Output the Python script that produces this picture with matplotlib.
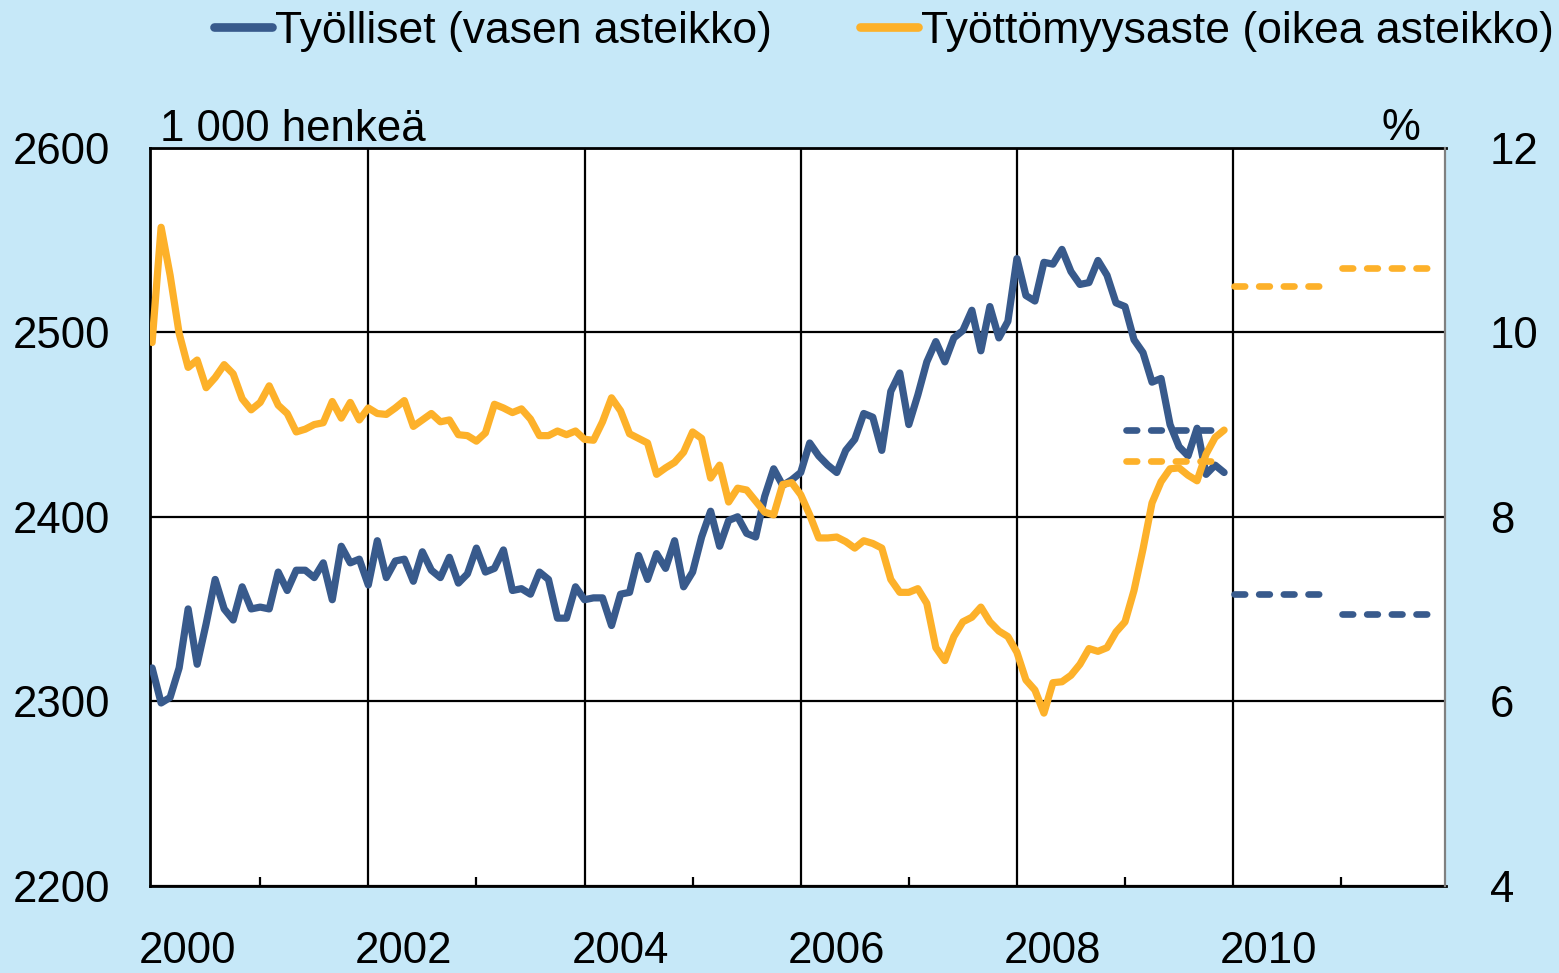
import matplotlib
matplotlib.use('Agg')
import matplotlib.pyplot as plt
import numpy as np
from matplotlib.lines import Line2D

plt.rcParams['font.family'] = ['Liberation Sans', 'DejaVu Sans']

# ---- data ----
start_year = 2000
employed = [
    2318, 2299, 2302, 2318, 2350, 2320, 2342, 2366, 2350, 2344, 2362, 2350,  # 2000
    2351, 2350, 2370, 2360, 2371, 2371, 2367, 2375, 2355, 2384, 2375, 2377,  # 2001
    2363, 2387, 2367, 2376, 2377, 2365, 2381, 2371, 2367, 2378, 2364, 2369,  # 2002
    2383, 2370, 2372, 2382, 2360, 2361, 2358, 2370, 2366, 2345, 2345, 2362,  # 2003
    2355, 2356, 2356, 2341, 2358, 2359, 2379, 2366, 2380, 2372, 2387, 2362,  # 2004
    2370, 2389, 2403, 2384, 2398, 2400, 2391, 2389, 2411, 2426, 2417, 2420,  # 2005
    2424, 2440, 2433, 2428, 2424, 2436, 2442, 2456, 2454, 2436, 2468, 2478,  # 2006
    2450, 2466, 2484, 2495, 2484, 2497, 2501, 2512, 2490, 2514, 2497, 2506,  # 2007
    2540, 2520, 2517, 2538, 2537, 2545, 2533, 2526, 2527, 2539, 2531, 2516,  # 2008
    2514, 2496, 2489, 2473, 2475, 2450, 2438, 2433, 2448, 2423, 2428, 2424,  # 2009
]
unemployment = [
    9.89, 11.14, 10.62, 9.99, 9.62, 9.70, 9.40, 9.51, 9.65, 9.55, 9.28, 9.16,  # 2000
    9.24, 9.42, 9.21, 9.12, 8.92, 8.95, 9.00, 9.02, 9.25, 9.07, 9.24, 9.05,    # 2001
    9.18, 9.12, 9.11, 9.18, 9.26, 8.98, 9.05, 9.12, 9.03, 9.05, 8.89, 8.88,    # 2002
    8.82, 8.91, 9.22, 9.18, 9.13, 9.17, 9.06, 8.88, 8.88, 8.93, 8.89, 8.93,    # 2003
    8.84, 8.83, 9.03, 9.29, 9.15, 8.90, 8.85, 8.80, 8.46, 8.53, 8.59, 8.70,    # 2004
    8.92, 8.85, 8.42, 8.56, 8.16, 8.31, 8.29, 8.17, 8.05, 8.02, 8.35, 8.37,    # 2005
    8.24, 8.02, 7.77, 7.77, 7.78, 7.73, 7.66, 7.74, 7.71, 7.66, 7.32, 7.18,    # 2006
    7.18, 7.22, 7.06, 6.58, 6.44, 6.70, 6.86, 6.91, 7.02, 6.86, 6.76, 6.70,    # 2007
    6.53, 6.23, 6.12, 5.87, 6.20, 6.21, 6.28, 6.40, 6.57, 6.54, 6.58, 6.75,    # 2008
    6.86, 7.20, 7.65, 8.15, 8.38, 8.52, 8.53, 8.45, 8.39, 8.68, 8.86, 8.94,    # 2009
]
forecast_years = [2009, 2010, 2011]
employed_forecast = [2447, 2358, 2347]
unemployment_forecast = [8.6, 10.5, 10.7]

label_years = [2000, 2002, 2004, 2006, 2008, 2010]
grid_years = [2002, 2004, 2006, 2008, 2010]
minor_years = [2001, 2003, 2005, 2007, 2009, 2011]
left_ticks = [2200, 2300, 2400, 2500, 2600]
right_ticks = [4, 6, 8, 10, 12]

legend_labels = ['Työlliset (vasen asteikko)', 'Työttömyysaste (oikea asteikko)']
left_unit = '1 000 henkeä'
right_unit = '%'

# ---- style ----
BLUE = '#385a8c'
ORANGE = '#fdb12a'
BG = '#c6e8f8'
FS = 31.5
LFS = 32
LW = 5.2

W, H = 1559, 973
fig = plt.figure(figsize=(W / 100, H / 100), dpi=100, facecolor=BG)
L, R, T, B = 149.5, 1445.5, 148, 885.5
ax = fig.add_axes([L / W, 1 - B / H, (R - L) / W, (B - T) / H])
ax.set_facecolor('white')
ax2 = ax.twinx()

t = start_year + np.arange(len(employed)) / 12.0
ax.plot(t, employed, color=BLUE, lw=LW, solid_joinstyle='round',
        solid_capstyle='round', zorder=3)
ax2.plot(t, unemployment, color=ORANGE, lw=LW, solid_joinstyle='round',
         solid_capstyle='round', zorder=3)

for yr, v in zip(forecast_years, employed_forecast):
    ax.plot([yr + 0.01, yr + 0.80], [v, v], color=BLUE, lw=4.8,
            linestyle=(0, (1.6, 2.1)), dash_capstyle='round', zorder=3)
for yr, v in zip(forecast_years, unemployment_forecast):
    ax2.plot([yr + 0.01, yr + 0.80], [v, v], color=ORANGE, lw=4.8,
             linestyle=(0, (1.6, 2.1)), dash_capstyle='round', zorder=3)

x0 = 2000 - 2.6 / 108.1
x1 = 2000 + (R - 152.1) / 108.1
ax.set_xlim(x0, x1)
ax.set_ylim(2200, 2600)
ax2.set_ylim(4, 12)

# gridlines
ax.set_yticks(left_ticks)
ax.yaxis.grid(True, color='black', lw=1.6, zorder=1)
for gy in grid_years:
    ax.axvline(gy, color='black', lw=1.6, zorder=1)
ax.set_axisbelow(True)

# x labels
ax.set_xticks([y + 0.33 for y in label_years], labels=[str(y) for y in label_years])
ax.set_xticks(minor_years, minor=True)
ax.tick_params(axis='x', which='major', length=0, pad=33, labelsize=FS)
ax.tick_params(axis='x', which='minor', direction='in', length=6.5, width=1.6,
               color='black')
ax.tick_params(axis='y', length=0, pad=28, labelsize=FS)

ax2.set_yticks(right_ticks)
ax2.tick_params(axis='y', length=0, pad=32, labelsize=FS)

for s in ['left', 'top', 'bottom']:
    ax.spines[s].set_color('black')
    ax.spines[s].set_linewidth(2.0)
ax.spines['right'].set_visible(False)
for s in ['left', 'top', 'bottom']:
    ax2.spines[s].set_visible(False)
ax2.spines['right'].set_color('#808080')
ax2.spines['right'].set_linewidth(1.6)

# unit labels
fig.text(160 / W, 1 - 141 / H, left_unit, fontsize=FS, va='baseline', ha='left')
fig.text(1420 / W, 1 - 140 / H, right_unit, fontsize=FS, va='baseline', ha='right')

# legend
handles = [Line2D([], [], color=BLUE, lw=LW * 1.2, solid_capstyle='round'),
           Line2D([], [], color=ORANGE, lw=LW * 1.2, solid_capstyle='round')]
fig.legend(handles, legend_labels, loc='center', bbox_to_anchor=(884 / W, 1 - 31 / H),
           ncol=2, frameon=False, handlelength=1.3, handletextpad=0.07,
           columnspacing=2.0, fontsize=LFS, borderpad=0.0, borderaxespad=0.0)

fig.savefig('out.png', dpi=100, facecolor=BG)
